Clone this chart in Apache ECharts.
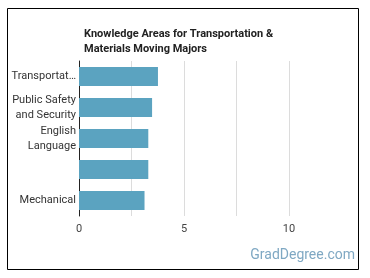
<!DOCTYPE html>
<html>
<head>
<meta charset="UTF-8">
<script src="https://cdn.jsdelivr.net/npm/echarts@6/dist/echarts.min.js"></script>
<style>
  html, body { margin: 0; padding: 0; background: #fff; }
  #main { width: 370px; height: 278px; }
</style>
</head>
<body>
<div id="main"></div>
<script>
var categories = ['Transportation', 'Public Safety\nand Security', 'English\nLanguage', '', 'Mechanical'];
var values = [3.76, 3.48, 3.3, 3.3, 3.12];
var ticks = [0, 5, 10];

var myChart = echarts.init(document.getElementById('main'));
var option = {
    animation: false,
    textStyle: { fontFamily: 'Roboto' },
    title: {
        text: 'Knowledge Areas for Transportation &\nMaterials Moving Majors',
        left: 79,
        top: 22,
        textStyle: { fontSize: 11, fontWeight: 'bold', color: '#222', lineHeight: 14.5 }
    },
    grid: { left: 79, right: 81, top: 61, bottom: 62 },
    xAxis: {
        type: 'value',
        min: 0,
        max: 10,
        interval: 2.5,
        axisLine: { show: false },
        axisTick: { show: false },
        splitLine: { lineStyle: { color: '#dcdcdc' } },
        axisLabel: {
            color: '#444', fontSize: 11, margin: 8,
            formatter: function (v) { return ticks.indexOf(v) >= 0 ? String(v) : ''; }
        }
    },
    yAxis: {
        type: 'category',
        inverse: true,
        data: categories,
        axisLine: { lineStyle: { color: '#222', width: 1 } },
        axisTick: { show: false },
        axisLabel: {
            color: '#333', fontSize: 11, margin: 3, lineHeight: 14.5,
            width: 66, overflow: 'truncate', ellipsis: '…'
        }
    },
    series: [{
        type: 'bar',
        data: values,
        barWidth: 19,
        itemStyle: { color: '#5ba3c0' }
    }],
    graphic: [
        {
            type: 'rect',
            shape: { x: 7.5, y: 8.5, width: 351, height: 261 },
            style: { fill: null, stroke: '#000', lineWidth: 1 },
            silent: true
        },
        {
            type: 'text',
            right: 15,
            top: 248,
            style: { text: 'GradDegree.com', fill: '#7fa8c3', fontSize: 14, fontFamily: 'Roboto' }
        }
    ]
};
myChart.setOption(option);
window.addEventListener('resize', function () {
    myChart.resize();
});
</script>
</body>
</html>
